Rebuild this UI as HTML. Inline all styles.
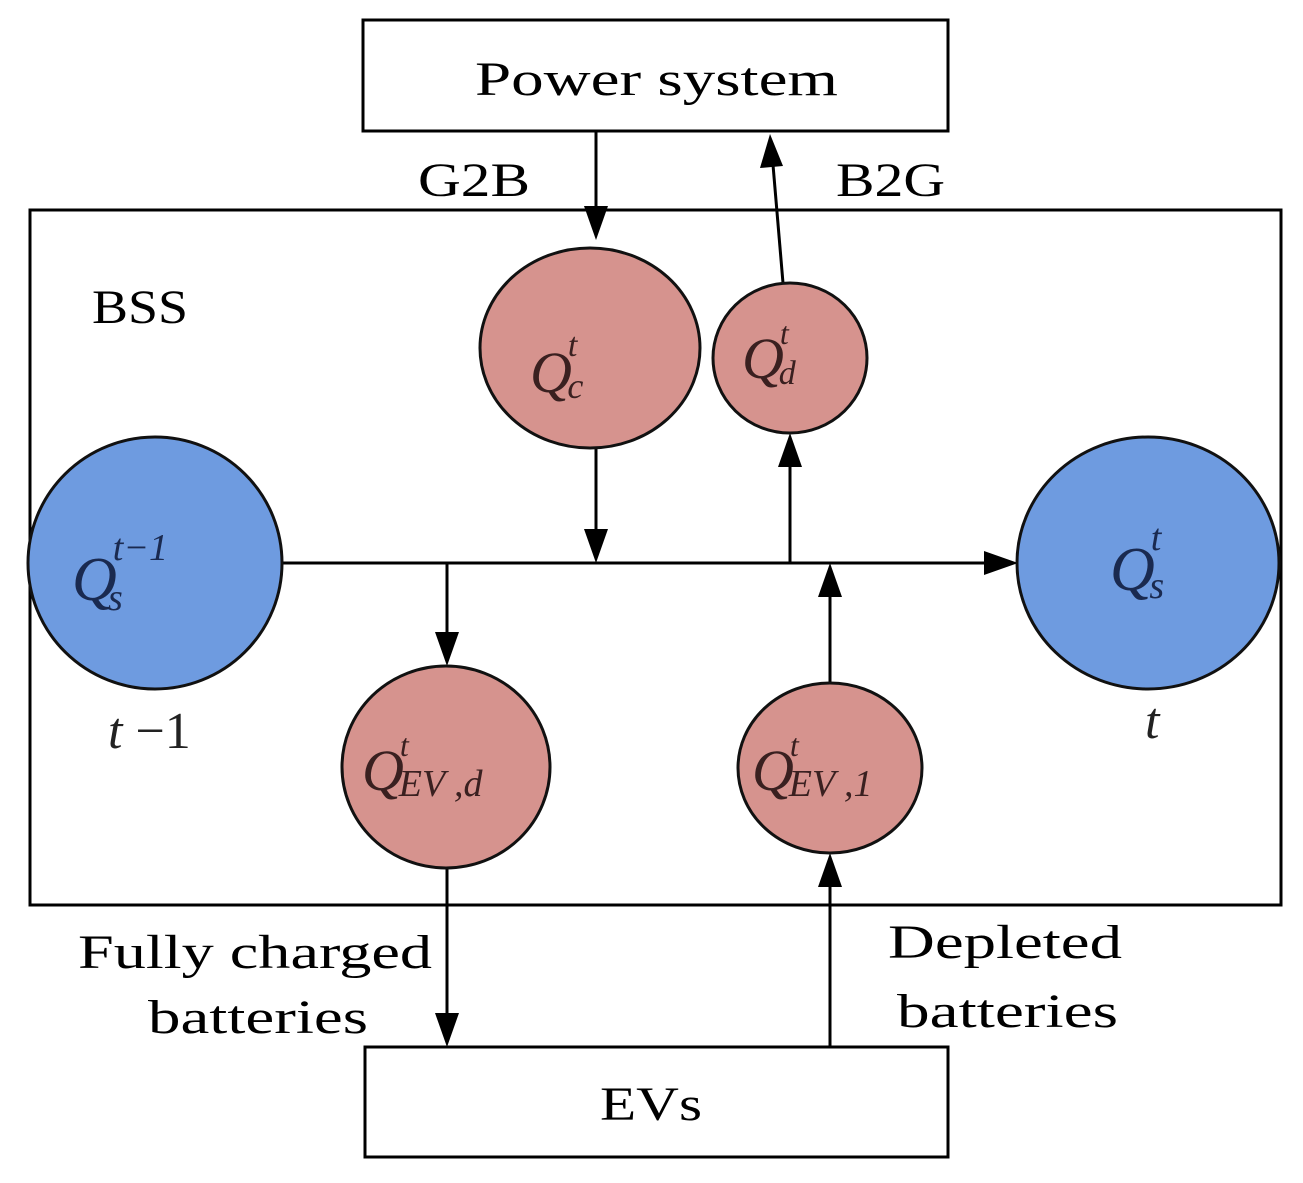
<!DOCTYPE html>
<html><head><style>
html,body{margin:0;padding:0;background:#fff;}
svg{display:block;}
text{font-family:"Liberation Serif",serif;}
</style></head><body>
<svg width="1303" height="1183" viewBox="0 0 1303 1183" xmlns="http://www.w3.org/2000/svg">
<g fill="none" stroke="#000" stroke-width="3">
<rect x="363" y="20" width="585" height="111"/>
<rect x="30" y="210" width="1251" height="695"/>
<rect x="365" y="1047" width="583" height="110"/>
</g>
<g stroke="#000" stroke-width="3" fill="none">
<line x1="282" y1="563" x2="1000" y2="563"/>
<line x1="596" y1="131" x2="596" y2="222"/>
<line x1="596" y1="448" x2="596" y2="545"/>
<line x1="790" y1="563" x2="790" y2="452"/>
<line x1="783" y1="283" x2="772" y2="153"/>
<line x1="447" y1="563" x2="447" y2="648"/>
<line x1="830" y1="683" x2="830" y2="582"/>
<line x1="447" y1="868" x2="447" y2="1029"/>
<line x1="830" y1="1047" x2="830" y2="872"/>
</g>
<g fill="#000">
<polygon points="1018,563 984,551 984,575"/>
<polygon points="596,240 584,206 608,206"/>
<polygon points="596,563 584,529 608,529"/>
<polygon points="790,433 778,467 802,467"/>
<polygon points="770,134 760,168 783,166"/>
<polygon points="447,666 435,632 459,632"/>
<polygon points="830,563 818,597 842,597"/>
<polygon points="447,1047 435,1013 459,1013"/>
<polygon points="830,853 818,887 842,887"/>
</g>
<g stroke="#111" stroke-width="3">
<ellipse cx="590" cy="348" rx="110" ry="100" fill="#d6938e"/>
<ellipse cx="790" cy="358" rx="77" ry="75" fill="#d6938e"/>
<ellipse cx="155" cy="563" rx="127" ry="126" fill="#6e9be0"/>
<ellipse cx="1148" cy="563" rx="131" ry="126" fill="#6e9be0"/>
<ellipse cx="446" cy="767" rx="104" ry="101" fill="#d6938e"/>
<ellipse cx="830" cy="768" rx="92" ry="85" fill="#d6938e"/>
</g>
<g font-size="48" fill="#000" lengthAdjust="spacing">
<text x="475" y="95" textLength="363" lengthAdjust="spacingAndGlyphs">Power system</text>
<text x="600" y="1120" textLength="102" lengthAdjust="spacingAndGlyphs">EVs</text>
<text x="418" y="196" textLength="112" lengthAdjust="spacingAndGlyphs">G2B</text>
<text x="836" y="196" textLength="109" lengthAdjust="spacingAndGlyphs">B2G</text>
<text x="92" y="323" textLength="96" lengthAdjust="spacingAndGlyphs">BSS</text>
<text x="78" y="968" textLength="354" lengthAdjust="spacingAndGlyphs">Fully charged</text>
<text x="148" y="1033" textLength="220" lengthAdjust="spacingAndGlyphs">batteries</text>
<text x="888" y="958" textLength="234" lengthAdjust="spacingAndGlyphs">Depleted</text>
<text x="897" y="1027" textLength="221" lengthAdjust="spacingAndGlyphs">batteries</text>
</g>
<g fill="#3a2020" font-style="italic" font-size="58">
<text x="530" y="392">Q<tspan font-size="34" dy="-36" dx="-4">t</tspan><tspan font-size="36" dy="42" dx="-10">c</tspan></text>
<text x="742" y="378">Q<tspan font-size="32" dy="-34" dx="-4">t</tspan><tspan font-size="34" dy="40" dx="-10">d</tspan></text>
<text x="362" y="790">Q<tspan font-size="32" dy="-34" dx="-4">t</tspan><tspan font-size="38" dy="40" dx="-10">EV ,d</tspan></text>
<text x="752" y="790">Q<tspan font-size="32" dy="-34" dx="-4">t</tspan><tspan font-size="38" dy="40" dx="-10">EV ,1</tspan></text>
</g>
<g fill="#1a2a50" font-style="italic" font-size="62">
<text x="72" y="600">Q<tspan font-size="38" dy="-40" dx="-4">t−1</tspan><tspan font-size="38" dy="50" dx="-60">s</tspan></text>
<text x="1110" y="590">Q<tspan font-size="38" dy="-40" dx="-4">t</tspan><tspan font-size="38" dy="48" dx="-12">s</tspan></text>
</g>
<g fill="#222" font-size="52">
<text x="108" y="748"><tspan font-style="italic">t</tspan> −1</text>
<text x="1145" y="738" font-style="italic">t</text>
</g>
</svg>
</body></html>
